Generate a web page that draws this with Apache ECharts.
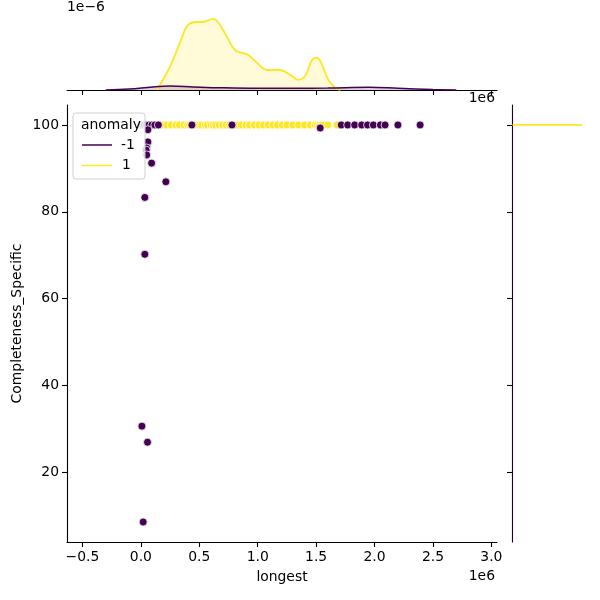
<!DOCTYPE html>
<html>
<head>
<meta charset="utf-8">
<script src="https://cdn.jsdelivr.net/npm/echarts@6/dist/echarts.min.js"></script>
<style>
  html, body { margin: 0; padding: 0; background: #fff; }
  #chart { width: 600px; height: 600px; }
</style>
</head>
<body>
<div id="chart"></div>
<script>
// scatter points, anomaly = -1 (purple)
var negX = [0, 15000, 30000, 50000, 70000, 95000, 120000, 150000, 437000, 780000,
  1715000, 1770000, 1830000, 1890000, 1940000, 1990000, 2050000, 2090000, 2200000, 2390000,
  1535000, 60000, 60000, 50000, 45000, 50000, 92000, 214000, 34000, 34000, 9000, 57000, 20000];
var negY = [100, 100, 100, 100, 100, 100, 100, 100, 100, 100,
  100, 100, 100, 100, 100, 100, 100, 100, 100, 100,
  99.3, 98.9, 96.1, 94.7, 94.2, 93.1, 91.2, 86.9, 83.3, 70.2, 30.6, 26.9, 8.5];

// scatter points, anomaly = 1 (yellow)
var posX = [190000, 220000, 260000, 300000, 330000, 370000, 400000, 420000, 450000, 480000,
  500000, 520000, 550000, 570000, 600000, 620000, 640000, 670000, 700000, 730000,
  760000, 800000, 830000, 860000, 900000, 930000, 970000, 1010000, 1050000, 1090000,
  1130000, 1170000, 1210000, 1250000, 1300000, 1350000, 1400000, 1450000, 1490000, 1510000,
  1530000, 1550000, 1600000, 1680000];
var posY = posX.map(function () { return 100; });

// top marginal kde (density in 1e-6)
var kdePosX = [137000, 249000, 334000, 403000, 480000, 532000, 617000, 660000, 738000, 806000,
  875000, 918000, 995000, 1081000, 1192000, 1278000, 1347000, 1406000, 1466000, 1509000,
  1552000, 1604000, 1664000, 1707000];
var kdePosY = [0, 0.52, 1.06, 1.46, 1.53, 1.53, 1.6, 1.53, 1.19, 0.9,
  0.83, 0.79, 0.61, 0.45, 0.45, 0.34, 0.23, 0.32, 0.68, 0.72,
  0.56, 0.23, 0.05, 0];
var kdeNegX = [-300000, -100000, 100000, 250000, 450000, 700000, 1000000, 1300000, 1600000, 1950000, 2200000, 2500000, 2700000];
var kdeNegY = [0, 0.02, 0.07, 0.09, 0.07, 0.05, 0.04, 0.04, 0.045, 0.06, 0.04, 0.01, 0];

// right marginal
var rightPos = [[0, 100], [0.875, 100]];
var rightNeg = [[0.006, 3.9], [0.006, 104.6]];

var xTicks = [-500000, 0, 500000, 1000000, 1500000, 2000000, 2500000, 3000000];
var yTicks = [20, 40, 60, 80, 100];

var PURPLE = "#440154";
var YELLOW = "#fde725";
var FONT = "DejaVu Sans";

function zip(a, b) {
  return a.map(function (v, i) { return [v, b[i]]; });
}

// fresh objects each time, so axes don't share option refs
function spine() {
  return { show: true, onZero: false, lineStyle: { color: "#000", width: 1.1 } };
}
function ticks(vals) {
  return { show: true, length: 5, customValues: vals, lineStyle: { color: "#000", width: 1.1 } };
}

var chart = echarts.init(document.getElementById("chart"));
var option = {
  animation: false,
  backgroundColor: "#fff",
  textStyle: { fontFamily: FONT },
  grid: [
    { left: 67, top: 105, width: 430, height: 437, outerBoundsMode: "none", containLabel: false }, // main
    { left: 67, top: 16, width: 430, height: 74, outerBoundsMode: "none", containLabel: false },   // top kde
    { left: 512, top: 105, width: 80, height: 437, outerBoundsMode: "none", containLabel: false }  // right kde
  ],
  xAxis: [
    {
      gridIndex: 0, type: "value", min: -632000, max: 3048000, position: "bottom",
      name: "longest", nameLocation: "middle", nameGap: 28,
      nameTextStyle: { fontFamily: FONT, fontSize: 13.9, color: "#000" },
      axisLine: spine(), axisTick: ticks(xTicks), splitLine: { show: false },
      axisLabel: {
        customValues: xTicks, margin: 8, fontFamily: FONT, fontSize: 13.9, color: "#000",
        formatter: function (v) { return (v / 1e6).toFixed(1).replace("-", "\u2212"); }
      }
    },
    {
      gridIndex: 1, type: "value", min: -632000, max: 3048000, position: "bottom",
      axisLine: spine(), axisTick: ticks(xTicks), splitLine: { show: false },
      axisLabel: { show: false }
    },
    {
      gridIndex: 2, type: "value", min: 0, max: 1, show: false
    }
  ],
  yAxis: [
    {
      gridIndex: 0, type: "value", min: 3.9, max: 104.6, position: "left",
      name: "Completeness_Specific", nameLocation: "middle", nameGap: 43, nameMoveOverlap: false,
      nameTextStyle: { fontFamily: FONT, fontSize: 13.9, color: "#000" },
      axisLine: spine(), axisTick: ticks(yTicks), splitLine: { show: false },
      axisLabel: { customValues: yTicks, margin: 8, fontFamily: FONT, fontSize: 13.9, color: "#000" }
    },
    {
      gridIndex: 1, type: "value", min: 0, max: 1.665, show: false
    },
    {
      gridIndex: 2, type: "value", min: 3.9, max: 104.6, position: "left",
      axisLine: spine(), axisTick: ticks(yTicks), splitLine: { show: false },
      axisLabel: { show: false }
    }
  ],
  series: [
    {
      type: "line", xAxisIndex: 1, yAxisIndex: 1, data: zip(kdePosX, kdePosY),
      smooth: 0.4, symbol: "none",
      lineStyle: { color: YELLOW, width: 1.8 },
      areaStyle: { color: "rgba(253,231,37,0.25)" }
    },
    {
      type: "line", xAxisIndex: 1, yAxisIndex: 1, data: zip(kdeNegX, kdeNegY),
      smooth: 0.4, symbol: "none",
      lineStyle: { color: PURPLE, width: 1.5 },
      areaStyle: { color: "rgba(68,1,84,0.25)" }
    },
    {
      type: "line", xAxisIndex: 2, yAxisIndex: 2, data: rightPos, symbol: "none",
      lineStyle: { color: YELLOW, width: 1.8 }
    },
    {
      type: "line", xAxisIndex: 2, yAxisIndex: 2, data: rightNeg, symbol: "none",
      lineStyle: { color: PURPLE, width: 1, opacity: 0.5 }
    },
    {
      name: "1", type: "scatter", xAxisIndex: 0, yAxisIndex: 0, data: zip(posX, posY),
      symbolSize: 8,
      itemStyle: { color: YELLOW, borderColor: "#fff", borderWidth: 0.75, opacity: 1 }
    },
    {
      name: "-1", type: "scatter", xAxisIndex: 0, yAxisIndex: 0, data: zip(negX, negY),
      symbolSize: 8,
      itemStyle: { color: PURPLE, borderColor: "#fff", borderWidth: 0.75, opacity: 1 }
    }
  ],
  graphic: [
    // offset texts
    { type: "text", left: 67, top: 0, z: 100,
      style: { text: "1e\u22126", font: "13.9px 'DejaVu Sans'", fill: "#000" } },
    { type: "text", right: 105, top: 91, z: 100,
      style: { text: "1e6", font: "13.9px 'DejaVu Sans'", fill: "#000" } },
    { type: "text", right: 105, top: 569, z: 100,
      style: { text: "1e6", font: "13.9px 'DejaVu Sans'", fill: "#000" } },
    // legend
    { type: "rect", z: 100, shape: { x: 73, y: 113, width: 72, height: 66, r: 3 },
      style: { fill: "rgba(255,255,255,0.8)", stroke: "#d0d0d0", lineWidth: 1 } },
    { type: "text", z: 101, x: 81, y: 125.5,
      style: { text: "anomaly", font: "13.9px 'DejaVu Sans'", fill: "#000", textVerticalAlign: "middle" } },
    { type: "line", z: 101, shape: { x1: 82, y1: 145, x2: 112, y2: 145 },
      style: { stroke: PURPLE, lineWidth: 1.5 } },
    { type: "text", z: 101, x: 121, y: 145,
      style: { text: "-1", font: "13.9px 'DejaVu Sans'", fill: "#000", textVerticalAlign: "middle" } },
    { type: "line", z: 101, shape: { x1: 82, y1: 165.5, x2: 112, y2: 165.5 },
      style: { stroke: YELLOW, lineWidth: 1.5 } },
    { type: "text", z: 101, x: 122, y: 165.5,
      style: { text: "1", font: "13.9px 'DejaVu Sans'", fill: "#000", textVerticalAlign: "middle" } }
  ]
};
chart.setOption(option);
</script>
</body>
</html>
